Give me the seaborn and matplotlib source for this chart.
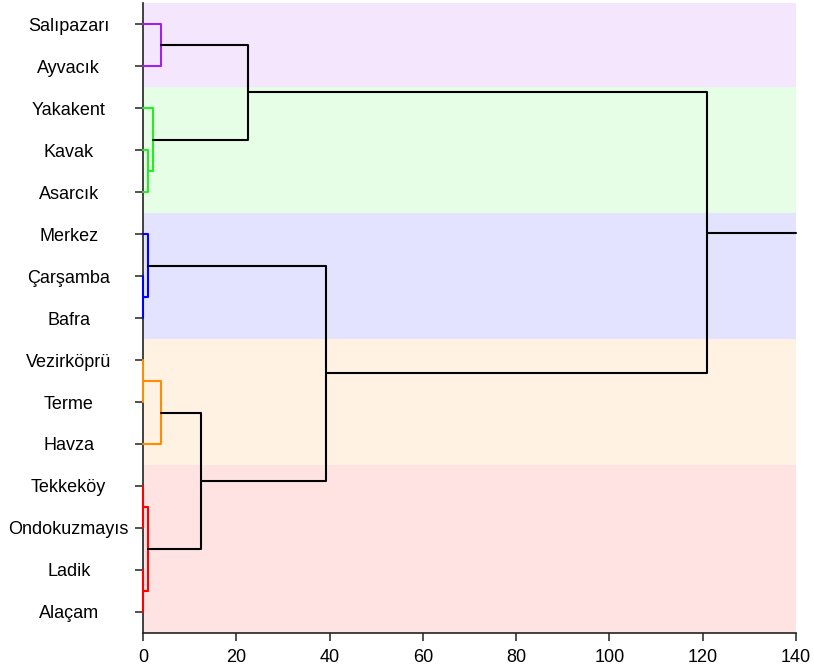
import numpy as np
import pandas as pd
import seaborn as sns
import matplotlib.pyplot as plt

# Yapraklar (yukarıdan aşağıya)
ilceler = ['Salıpazarı', 'Ayvacık', 'Yakakent', 'Kavak', 'Asarcık', 'Merkez',
           'Çarşamba', 'Bafra', 'Vezirköprü', 'Terme', 'Havza', 'Tekkeköy',
           'Ondokuzmayıs', 'Ladik', 'Alaçam']
kume = [0, 0, 1, 1, 1, 2, 2, 2, 3, 3, 3, 4, 4, 4, 4]
kume_renk = ['#a020f0', '#22ee22', '#0000ff', '#ff8c00', '#ff0000']

# Birleşmeler (scipy linkage düzeninde: sol, sağ, mesafe)
sol = [6, 8, 11, 13, 3, 5, 17, 2, 0, 16, 24, 23, 20, 26]
sag = [7, 9, 12, 14, 4, 15, 18, 19, 1, 10, 21, 22, 25, 27]
mesafe = [0.0, 0.0, 0.0, 0.0, 1.1, 1.0, 1.1, 2.2, 3.9, 3.9, 12.4, 22.5, 39.2, 120.9]
esik = 10
x_max = 140

n = len(ilceler)
poz = {i: float(i) for i in range(n)}
yuk = {i: 0.0 for i in range(n)}
uyeler = {i: [i] for i in range(n)}
rows = []
for k, (a, b, h) in enumerate(zip(sol, sag, mesafe)):
    node = n + k
    uyeler[node] = uyeler[a] + uyeler[b]
    poz[node] = (poz[a] + poz[b]) / 2
    yuk[node] = h
    kl = {kume[i] for i in uyeler[node]}
    renk = kume_renk[list(kl)[0]] if (h < esik and len(kl) == 1) else 'black'
    pts = [(yuk[a], poz[a]), (h, poz[a]), (h, poz[b]), (yuk[b], poz[b])]
    for j, (x, y) in enumerate(pts):
        rows.append({'link': k, 'order': j, 'x': x, 'y': y, 'renk': renk})
# kökten eksen sonuna uzanan çizgi
kok = n + len(sol) - 1
rows.append({'link': 99, 'order': 0, 'x': yuk[kok], 'y': poz[kok], 'renk': 'black'})
rows.append({'link': 99, 'order': 1, 'x': x_max, 'y': poz[kok], 'renk': 'black'})
df = pd.DataFrame(rows)

sns.set_style('ticks')
plt.rcParams['font.family'] = ['Liberation Sans', 'DejaVu Sans']

fig = plt.figure(figsize=(8.14, 6.68), dpi=100)
ax = fig.add_axes([0.1757, 0.0524, 0.8023, 0.9431])

for c, renk in enumerate(kume_renk):
    idx = [i for i in range(n) if kume[i] == c]
    ax.axhspan(min(idx) - 0.5, max(idx) + 0.5, color=renk, alpha=0.11, lw=0, zorder=0)

pal = {r: r for r in df['renk'].unique()}
sns.lineplot(data=df, x='x', y='y', units='link', estimator=None, sort=False,
             hue='renk', palette=pal, legend=False, linewidth=1.5, ax=ax, zorder=3)
for l in ax.lines:
    l.set_clip_on(False)

ax.set_xlim(0, x_max)
ax.set_ylim(n - 0.5, -0.5)
ax.set_xticks(np.arange(0, 141, 20))
ax.set_yticks(range(n))
ax.set_yticklabels(ilceler, ha='center')
ax.set_xlabel('')
ax.set_ylabel('')
ax.tick_params(axis='both', labelsize=13, length=5.5, width=1.1, color='#222222',
               labelcolor='black')
ax.tick_params(axis='x', pad=6)
ax.tick_params(axis='y', pad=48)
sns.despine(ax=ax)
for s in ['left', 'bottom']:
    ax.spines[s].set_linewidth(1.2)
    ax.spines[s].set_color('#222222')

fig.savefig('out.png', dpi=100)
